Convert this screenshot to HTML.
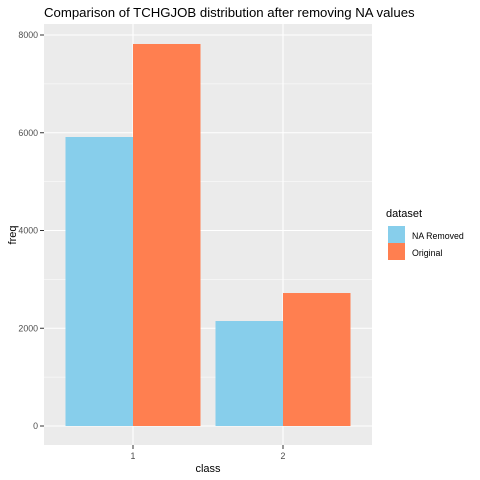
<!DOCTYPE html>
<html><head><meta charset="utf-8"><style>
html,body{margin:0;padding:0;background:#fff;}
svg{display:block;font-family:"Liberation Sans",Arial,sans-serif;}
</style></head><body>
<svg id="chart" width="480" height="480" viewBox="0 0 480 480">
<text x="44" y="17" font-size="13.2" fill="#000">Comparison of TCHGJOB distribution after removing NA values</text>
<rect x="44" y="24" width="328" height="421" fill="#EBEBEB"/>
<g id="grid"></g>
<g id="bars"></g>
<g id="axes"></g>
<text x="208" y="472" font-size="11" text-anchor="middle">class</text>
<text transform="translate(16,235) rotate(-90)" font-size="11" text-anchor="middle">freq</text>
<g>
<text x="386" y="217" font-size="11">dataset</text>
<rect x="388" y="226" width="17" height="17" fill="#87CEEB"/>
<text x="412" y="239" font-size="8.8" fill="#000">NA Removed</text>
<rect x="388" y="243" width="17" height="17" fill="#FF7F50"/>
<text x="412" y="256" font-size="8.8" fill="#000">Original</text>
</g>
</svg>
<script>
const categories = ["1", "2"];
const naRemoved = [5913, 2148];
const original = [7816, 2721];
const yTicks = [0, 2000, 4000, 6000, 8000];
const NS = "http://www.w3.org/2000/svg";
const y = v => 426 - v * 0.048875;
const x = i => 133 + i * 150;
const bw = 67.5;
const grid = document.getElementById("grid"), bars = document.getElementById("bars"), axes = document.getElementById("axes");
function mk(tag, attrs, parent){const e=document.createElementNS(NS,tag);for(const k in attrs)e.setAttribute(k,attrs[k]);parent.appendChild(e);return e;}
for (let t = 1000; t <= 8000; t += 2000) {
  const l = mk("line", {x1:44, x2:372, y1:y(t), y2:y(t), stroke:"#fff", "stroke-width":0.6}, grid);
  
  
}
yTicks.forEach(t => {
  const l = mk("line", {x1:44, x2:372, y1:y(t), y2:y(t), stroke:"#fff", "stroke-width":1.1}, grid);
  
  
  const tk = mk("line", {x1:40, x2:44, y1:y(t), y2:y(t), stroke:"#333", "stroke-width":1}, axes);
  
  
  const tx = mk("text", {x:38, y:y(t)+3, "font-size":8.8, fill:"#4D4D4D", "text-anchor":"end"}, axes);
  tx.textContent = t;
  
  
});
categories.forEach((c, i) => {
  const g = mk("line", {x1:x(i), x2:x(i), y1:24, y2:445, stroke:"#fff", "stroke-width":1.1}, grid);
  
  
  const b1 = mk("rect", {x:x(i)-bw, y:y(naRemoved[i]), width:bw, height:y(0)-y(naRemoved[i]), fill:"#87CEEB"}, bars);
  
  
  const b2 = mk("rect", {x:x(i), y:y(original[i]), width:bw, height:y(0)-y(original[i]), fill:"#FF7F50"}, bars);
  
  
  const tk = mk("line", {x1:x(i), x2:x(i), y1:445, y2:449, stroke:"#333", "stroke-width":1}, axes);
  
  
  const tx = mk("text", {x:x(i), y:459, "font-size":8.8, fill:"#4D4D4D", "text-anchor":"middle"}, axes);
  tx.textContent = c;
  
  
});
</script>
</body></html>
